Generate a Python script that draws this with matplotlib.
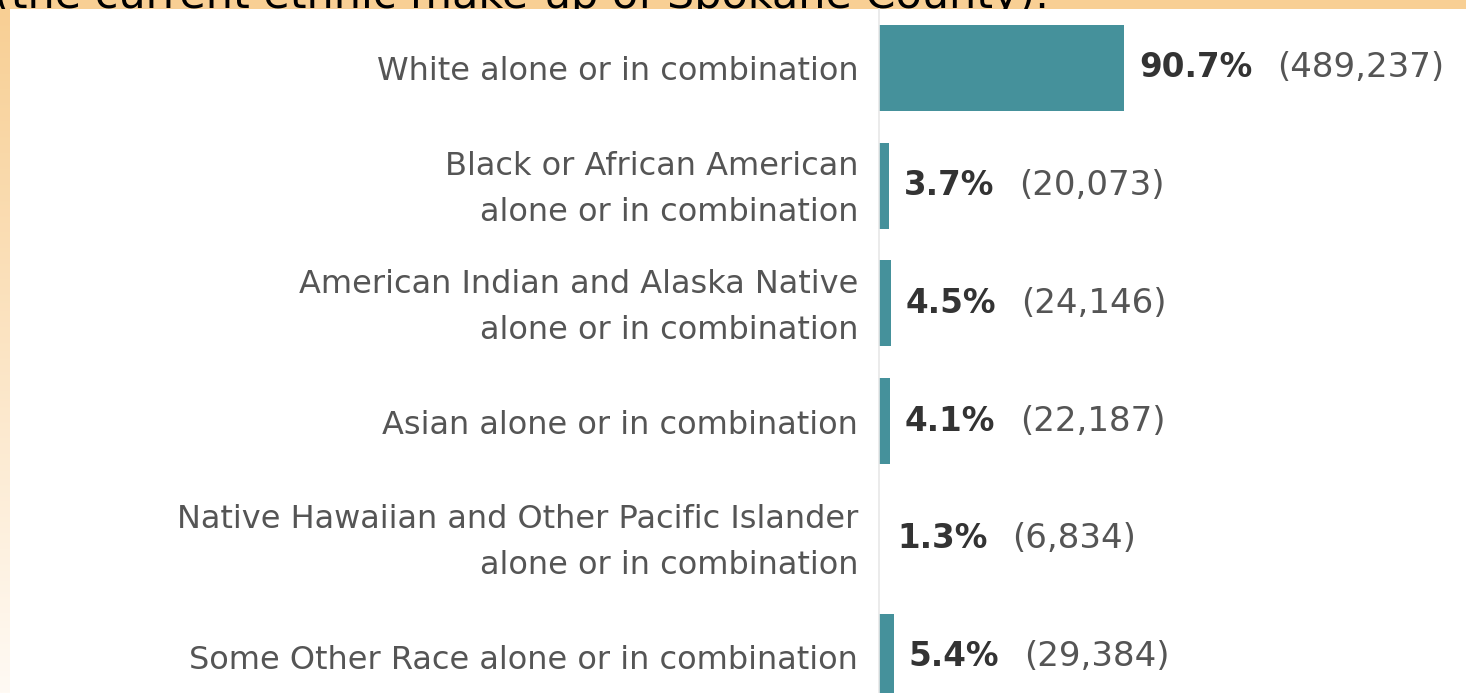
import matplotlib
matplotlib.use("Agg")
import matplotlib.pyplot as plt
import numpy as np
from matplotlib.patches import Rectangle
from matplotlib.transforms import ScaledTranslation

# ---- data ----
categories = [
    "White alone or in combination",
    "Black or African American\nalone or in combination",
    "American Indian and Alaska Native\nalone or in combination",
    "Asian alone or in combination",
    "Native Hawaiian and Other Pacific Islander\nalone or in combination",
    "Some Other Race alone or in combination",
]
percents = [90.7, 3.7, 4.5, 4.1, 1.3, 5.4]
counts = [489237, 20073, 24146, 22187, 6834, 29384]
header_text = "(the current ethnic make-up of Spokane County)."

# ---- style ----
W, H, DPI = 1466, 693, 100
bar_color = "#45919b"
bar_colors = [bar_color, bar_color, bar_color, bar_color, "#ffffff", bar_color]
label_font = "DejaVu Sans"

fig = plt.figure(figsize=(W / DPI, H / DPI), dpi=DPI)
fig.patch.set_facecolor("white")

def fx(px):
    return px / W

def fy(py):
    return 1 - py / H

top_band = 9
left_band = 10
orange = "#f8cf94"

# top orange band
fig.patches.append(Rectangle((0, fy(top_band)), 1, top_band / H, transform=fig.transFigure,
                             facecolor=orange, edgecolor="none", zorder=-3))
# header text (cut off by the white panel, as in the reference)
fig.text(fx(-6), fy(8), header_text, fontsize=31, color="black", ha="left", va="baseline",
         family="DejaVu Sans", zorder=-2)
# white panel
fig.patches.append(Rectangle((fx(left_band), 0), 1, fy(top_band), transform=fig.transFigure,
                             facecolor="white", edgecolor="none", zorder=-1))

# left gradient strip
gax = fig.add_axes([0, 0, fx(left_band), fy(top_band)])
top_rgb = np.array([248, 207, 148]) / 255
bot_rgb = np.array([255, 250, 244]) / 255
t = np.linspace(0, 1, 256)[:, None]
grad = top_rgb[None, :] * (1 - t) + bot_rgb[None, :] * t
gax.imshow(grad[:, None, :], aspect="auto", extent=[0, 1, 0, 1])
gax.axis("off")

# main bar axes
ax_left = 879
ax = fig.add_axes([fx(ax_left), 0, 1 - fx(ax_left), fy(top_band)])
ax.set_facecolor("white")
y = np.arange(len(categories))
ax.barh(y, percents, height=0.73, color=bar_colors, edgecolor="none")
ax.set_ylim(5.31, -0.5)
ax.set_xlim(0, 217)

for s in ["top", "right", "bottom"]:
    ax.spines[s].set_visible(False)
ax.spines["left"].set_color("#e8e8e8")
ax.spines["left"].set_linewidth(1.2)
ax.set_xticks([])
ax.set_yticks(y)
ax.tick_params(axis="y", length=0, pad=15)
ax.set_yticklabels(categories, fontsize=23, color="#555555", family=label_font,
                   linespacing=1.62)
shift = ScaledTranslation(0, -4 / DPI, fig.dpi_scale_trans)
for lbl in ax.get_yticklabels():
    lbl.set_va("center")
    lbl.set_transform(lbl.get_transform() + shift)

for yi, p, c in zip(y, percents, counts):
    t1 = ax.annotate(f"{p:.1f}%", xy=(p, yi), xytext=(10.5, 0), textcoords="offset points",
                     ha="left", va="center", fontsize=23.5, fontweight="bold",
                     color="#333333", family=label_font)
    ax.annotate(f"({c:,})", xy=(1, 0.5), xycoords=t1, xytext=(18, 0),
                textcoords="offset points", ha="left", va="center", fontsize=24.5,
                color="#555555", family=label_font)

fig.savefig("out.png", dpi=DPI)
